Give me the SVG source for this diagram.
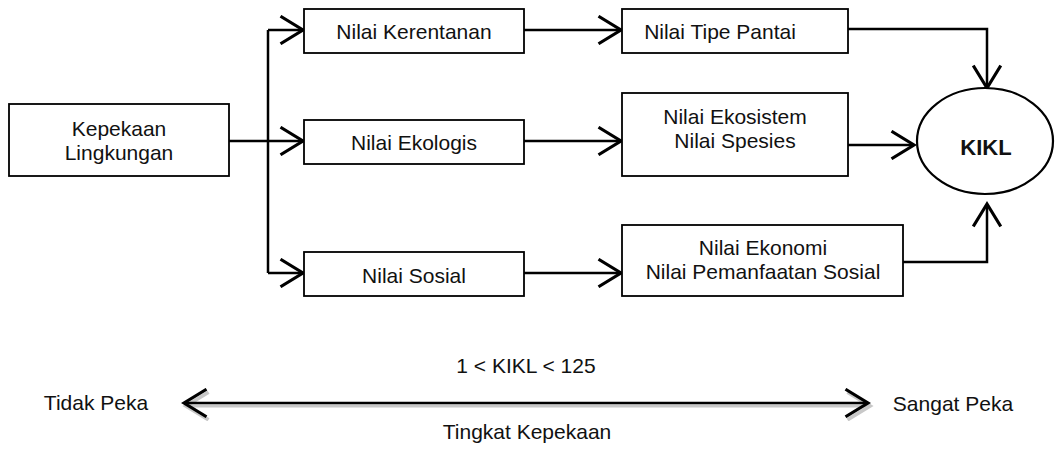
<svg xmlns="http://www.w3.org/2000/svg" width="1056" height="450" viewBox="0 0 1056 450">
<style>
.box{fill:#fff;stroke:#000;stroke-width:1.8}
.t{font-family:"Liberation Sans",Arial,sans-serif;font-size:21px;fill:#111;text-anchor:middle}
.b{font-weight:bold;font-size:22px}
.c{fill:none;stroke:#000;stroke-width:2.5}
.sh{fill:none;stroke:#c8c8c8;stroke-width:3}
</style>
<defs>
<marker id="ah" markerUnits="userSpaceOnUse" markerWidth="30" markerHeight="30" viewBox="-20 -12 22 24" refX="0" refY="0" orient="auto-start-reverse">
<path d="M-18,-11 L0,0 L-18,11" fill="none" stroke="#000" stroke-width="2.5"/>
</marker>
<marker id="ahs" markerUnits="userSpaceOnUse" markerWidth="30" markerHeight="30" viewBox="-20 -12 22 24" refX="0" refY="0" orient="auto-start-reverse">
<path d="M-18,-11 L0,0 L-18,11" fill="none" stroke="#c8c8c8" stroke-width="3"/>
</marker>
</defs>
<rect width="1056" height="450" fill="#fff"/>
<g id="connectors">
<path class="c" d="M229,141 H268"/>
<path class="c" d="M268,30 V273"/>
<path class="c" d="M268,30 H303" marker-end="url(#ah)"/>
<path class="c" d="M268,141 H303" marker-end="url(#ah)"/>
<path class="c" d="M268,273 H303" marker-end="url(#ah)"/>
<path class="c" d="M524,30 H621" marker-end="url(#ah)"/>
<path class="c" d="M524,141 H621" marker-end="url(#ah)"/>
<path class="c" d="M524,273 H621" marker-end="url(#ah)"/>
<path class="c" d="M848,29 H987 V88" marker-end="url(#ah)"/>
<path class="c" d="M848,145 H914" marker-end="url(#ah)"/>
<path class="c" d="M903,262 H987 V204" marker-end="url(#ah)"/>
</g>
<g id="scale">
<path class="sh" d="M186,406 H870" marker-start="url(#ahs)" marker-end="url(#ahs)"/>
<path class="c" d="M184,403 H868" marker-start="url(#ah)" marker-end="url(#ah)"/>
<text class="t" x="526" y="373">1 &lt; KIKL &lt; 125</text>
<text class="t" x="527" y="439">Tingkat Kepekaan</text>
<text class="t" x="96" y="410">Tidak Peka</text>
<text class="t" x="953" y="411">Sangat Peka</text>
</g>
<g id="kepekaan">
<rect class="box" x="9" y="104" width="220" height="72"/>
<text class="t" x="119" y="136">Kepekaan</text>
<text class="t" x="119" y="160">Lingkungan</text>
</g>
<g id="kerentanan">
<rect class="box" x="304" y="9" width="220" height="44"/>
<text class="t" x="414" y="39">Nilai Kerentanan</text>
</g>
<g id="ekologis">
<rect class="box" x="304" y="120" width="220" height="44"/>
<text class="t" x="414" y="150">Nilai Ekologis</text>
</g>
<g id="sosial">
<rect class="box" x="304" y="252" width="220" height="44"/>
<text class="t" x="414" y="283">Nilai Sosial</text>
</g>
<g id="tipe-pantai">
<rect class="box" x="622" y="9" width="226" height="44"/>
<text class="t" x="720" y="39">Nilai Tipe Pantai</text>
</g>
<g id="ekosistem">
<rect class="box" x="622" y="93" width="226" height="83"/>
<text class="t" x="735" y="124">Nilai Ekosistem</text>
<text class="t" x="735" y="148">Nilai Spesies</text>
</g>
<g id="ekonomi">
<rect class="box" x="622" y="225" width="281" height="71"/>
<text class="t" x="763" y="255">Nilai Ekonomi</text>
<text class="t" x="763" y="279">Nilai Pemanfaatan Sosial</text>
</g>
<g id="kikl">
<ellipse cx="985" cy="141" rx="68" ry="53" fill="#fff" stroke="#000" stroke-width="2.2"/>
<text class="t b" x="986" y="155">KIKL</text>
</g>
</svg>
